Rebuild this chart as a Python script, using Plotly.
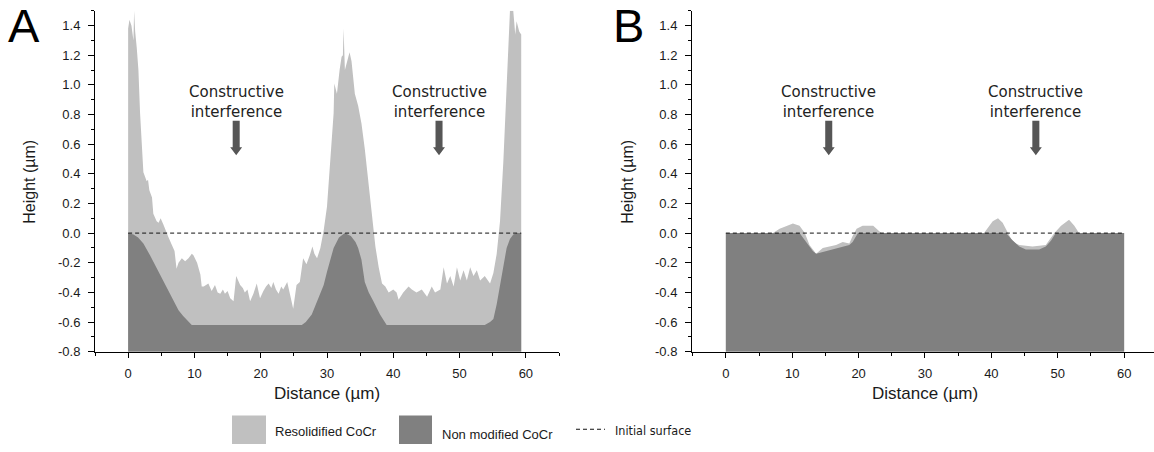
import plotly.graph_objects as go

# ---------------- data ----------------
AXIS_MIN = -0.8
AXIS_MAX = 1.5

# Panel A - resolidified CoCr (light) profile
A_LIGHT_X = [0.0, 0.2, 0.5, 0.8, 0.9, 1.06, 1.3, 1.55, 1.8, 2.06, 2.3, 2.8, 3.0, 3.2, 3.6, 3.8, 4.3, 4.6,
             4.9, 5.3, 5.8, 6.1, 6.6, 7.0, 7.3, 7.6, 8.1, 8.6, 9.1, 9.6, 9.85, 10.4, 10.9, 11.1, 11.4,
             12.1, 12.6, 13.1, 13.5, 13.9, 14.3, 14.6, 15.0, 15.4, 15.9, 16.3, 16.9, 17.3, 17.6, 18.0,
             18.4, 18.9, 19.4, 19.9, 20.4, 20.8, 21.2, 21.6, 21.9, 22.3, 22.7, 23.1, 23.4, 24.0, 24.4,
             24.9, 25.4, 25.9, 26.4, 26.9, 27.4, 27.8, 28.1, 28.5, 29.0, 29.5, 30.0, 30.5, 31.0, 31.1,
             31.5, 31.9, 32.2, 32.4, 32.5, 32.7, 33.0, 33.4, 33.7, 34.2, 34.7, 35.2, 35.7, 36.2, 36.8,
             37.3, 37.8, 38.3, 38.8, 39.3, 40.0, 40.5, 40.8, 41.5, 42.3, 42.8, 43.5, 44.3, 45.1, 45.8,
             46.3, 47.1, 47.6, 48.1, 48.6, 49.1, 49.6, 50.1, 50.6, 51.1, 51.6, 52.1, 52.6, 53.1, 53.8,
             54.6, 55.1, 55.6, 56.1, 56.6, 57.1, 57.4, 57.6, 58.1, 58.4, 58.6, 59.0, 59.3]
A_LIGHT_Y = [1.38, 1.44, 1.40, 1.30, 1.50, 1.36, 1.25, 1.10, 0.81, 0.59, 0.41, 0.35, 0.36, 0.29, 0.24, 0.13, 0.08, 0.07,
             0.10, 0.06, 0.00, -0.03, -0.08, -0.12, -0.24, -0.20, -0.17, -0.19, -0.17, -0.14, -0.15, -0.20, -0.28, -0.36, -0.36,
             -0.34, -0.39, -0.35, -0.40, -0.41, -0.38, -0.41, -0.39, -0.44, -0.46, -0.29, -0.35, -0.37, -0.40, -0.38,
             -0.46, -0.41, -0.34, -0.44, -0.39, -0.36, -0.34, -0.37, -0.33, -0.38, -0.41, -0.36, -0.38, -0.33, -0.41,
             -0.51, -0.35, -0.33, -0.17, -0.21, -0.15, -0.09, -0.14, -0.17, -0.10, 0.02, 0.18, 0.48, 0.81, 1.01,
             0.94, 1.10, 1.19, 1.20, 1.38, 1.10, 1.16, 1.22, 1.16, 0.94, 0.86, 0.74, 0.57, 0.37, 0.13,
             -0.09, -0.23, -0.34, -0.36, -0.40, -0.38, -0.40, -0.45, -0.40, -0.36, -0.38, -0.40, -0.38, -0.43, -0.36,
             -0.40, -0.38, -0.23, -0.34, -0.29, -0.36, -0.23, -0.32, -0.25, -0.32, -0.23, -0.29, -0.25, -0.32, -0.29,
             -0.34, -0.27, -0.14, 0.08, 0.48, 0.99, 1.34, 1.50, 1.50, 1.34, 1.43, 1.36, 1.34]

# Panel A - non modified CoCr (dark) profile
A_DARK_X = [0.0, 0.8, 1.5, 2.3, 3.3, 4.0, 4.8, 5.8, 6.8, 7.6, 8.3, 8.9, 9.6, 26.2, 26.8, 27.7, 28.6, 29.5,
            30.0, 31.0, 31.8, 32.7, 33.6, 34.3, 34.7, 35.2, 35.7, 36.3, 37.0, 38.0, 39.0, 53.8, 54.6, 55.1,
            55.6, 56.1, 56.6, 57.1, 57.6, 58.1, 58.7, 59.3]
A_DARK_Y = [0.0, -0.01, -0.03, -0.07, -0.15, -0.21, -0.28, -0.37, -0.46, -0.52, -0.56, -0.59, -0.62, -0.62, -0.60, -0.55, -0.45, -0.35,
            -0.26, -0.10, -0.03, 0.0, -0.02, -0.06, -0.10, -0.18, -0.33, -0.40, -0.46, -0.55, -0.62, -0.62, -0.60, -0.58,
            -0.48, -0.35, -0.22, -0.10, -0.04, -0.01, 0.0, 0.0]

# Panel B
B_LIGHT_X = [0.0, 7.1, 8.1, 9.1, 10.1, 11.1, 11.9, 12.6, 13.6, 14.6, 15.6, 16.6, 17.6, 18.6, 19.1, 19.7, 20.6,
             22.2, 22.7, 23.4, 38.9, 40.2, 41.0, 41.7, 42.5, 43.0, 43.7, 44.2, 46.2, 48.2, 49.0, 49.5, 50.5,
             51.7, 52.5, 53.2, 60.0]
B_LIGHT_Y = [0.0, 0.0, 0.03, 0.05, 0.065, 0.05, 0.0, -0.08, -0.14, -0.10, -0.09, -0.08, -0.06, -0.07, -0.02, 0.03, 0.05,
             0.05, 0.03, 0.0, 0.0, 0.08, 0.10, 0.07, 0.0, -0.04, -0.07, -0.08, -0.09, -0.08, -0.03, 0.0, 0.05,
             0.09, 0.05, 0.0, 0.0]
B_DARK_X = [0.0, 11.1, 12.1, 13.1, 13.6, 16.1, 18.6, 19.1, 19.9, 42.2, 43.2, 44.2, 45.2, 47.2, 48.2, 49.0, 49.7, 60.0]
B_DARK_Y = [0.0, 0.0, -0.06, -0.12, -0.14, -0.11, -0.08, -0.06, 0.0, 0.0, -0.05, -0.09, -0.11, -0.11, -0.09, -0.05, 0.0, 0.0]

INIT_X_A = [0.0, 59.3]
INIT_X_B = [0.0, 60.0]
INIT_Y = [0.0, 0.0]

ARROW_X_A = [16.3, 46.9]
ARROW_X_B = [15.5, 46.7]

Y_TICKS = [-0.8, -0.6, -0.4, -0.2, 0.0, 0.2, 0.4, 0.6, 0.8, 1.0, 1.2, 1.4]
Y_TICKTEXT = ["-0.8", "-0.6", "-0.4", "-0.2", "0.0", "0.2", "0.4", "0.6", "0.8", "1.0", "1.2", "1.4"]
X_TICKS = [0, 10, 20, 30, 40, 50, 60]
X_TICKTEXT = ["0", "10", "20", "30", "40", "50", "60"]

LIGHT = "#c0c0c0"
DARK = "#808080"
ARROW_C = "#565656"

W, H = 1154, 452

fig = go.Figure()


def add_area(xs, ys, color, xa, ya):
    fig.add_trace(go.Scatter(x=xs, y=[AXIS_MIN] * len(xs), mode="lines", line=dict(width=0),
                             hoverinfo="skip", showlegend=False, xaxis=xa, yaxis=ya))
    fig.add_trace(go.Scatter(x=xs, y=ys, mode="lines", line=dict(width=0, color=color),
                             fill="tonexty", fillcolor=color, showlegend=False, xaxis=xa, yaxis=ya))


add_area(A_LIGHT_X, A_LIGHT_Y, LIGHT, "x", "y")
add_area(A_DARK_X, A_DARK_Y, DARK, "x", "y")
add_area(B_LIGHT_X, B_LIGHT_Y, LIGHT, "x2", "y2")
add_area(B_DARK_X, B_DARK_Y, DARK, "x2", "y2")

for xs, xa, ya in [(INIT_X_A, "x", "y"), (INIT_X_B, "x2", "y2")]:
    fig.add_trace(go.Scatter(x=xs, y=INIT_Y, mode="lines",
                             line=dict(color="#111111", width=1, dash="4px,3px"),
                             showlegend=False, xaxis=xa, yaxis=ya))

# axes
yb0 = 1 - 358 / H
yb1 = 1 - 11 / H
tickfont = dict(family="Liberation Sans, Arial, sans-serif", size=13, color="#1a1a1a")
common_x = dict(showline=True, linecolor="black", linewidth=1, ticks="outside", ticklen=5,
                tickcolor="black", tickvals=X_TICKS, ticktext=X_TICKTEXT, showgrid=False,
                zeroline=False, tickfont=tickfont, fixedrange=True, ticklabelstandoff=5,
                minor=dict(ticks="outside", ticklen=3, dtick=5, tick0=0, tickcolor="black", showgrid=False))
common_y = dict(showline=True, linecolor="black", linewidth=1, ticks="outside", ticklen=6,
                tickcolor="black", tickvals=Y_TICKS, ticktext=Y_TICKTEXT, showgrid=False,
                zeroline=False, tickfont=tickfont, range=[AXIS_MIN, AXIS_MAX], ticklabelstandoff=5,
                minor=dict(ticks="outside", ticklen=3, dtick=0.1, tick0=0, tickcolor="black", showgrid=False))

fig.update_layout(
    width=W, height=H, margin=dict(l=0, r=0, t=0, b=0),
    paper_bgcolor="white", plot_bgcolor="white", showlegend=False,
    xaxis=dict(domain=[95 / W, 559 / W], range=[-5, 65], anchor="y", **common_x),
    yaxis=dict(domain=[yb0, yb1], anchor="x", **common_y),
    xaxis2=dict(domain=[692 / W, 1.0], range=[-5.1, 64.5], anchor="y2", **common_x),
    yaxis2=dict(domain=[yb0, yb1], anchor="x2", **common_y),
)

# arrows and labels
SW, HW = 0.53, 0.9
TOP, NECK, TIP = 0.758, 0.579, 0.526
shapes = []
annotations = []
ann_font = dict(family="DejaVu Sans, Verdana, sans-serif", size=15, color="#222222")
for xs, xr, yr in [(ARROW_X_A, "x", "y"), (ARROW_X_B, "x2", "y2")]:
    for ax in xs:
        path = (f"M {ax - SW},{TOP} L {ax + SW},{TOP} L {ax + SW},{NECK} L {ax + HW},{NECK} "
                f"L {ax},{TIP} L {ax - HW},{NECK} L {ax - SW},{NECK} Z")
        shapes.append(dict(type="path", path=path, xref=xr, yref=yr, fillcolor=ARROW_C,
                           line=dict(width=0)))
        annotations.append(dict(x=ax, y=0.887, xref=xr, yref=yr, text="Constructive<br>interference",
                                showarrow=False, font=ann_font, xanchor="center", yanchor="middle"))

ytitle_font = dict(family="Liberation Sans, Arial, sans-serif", size=16, color="#1a1a1a")
xtitle_font = dict(family="Liberation Sans, Arial, sans-serif", size=17, color="#1a1a1a")
for xc in [30 / W, 628 / W]:
    annotations.append(dict(x=xc, y=1 - 185 / H, xref="paper", yref="paper", text="Height (µm)",
                            textangle=-90, showarrow=False, font=ytitle_font,
                            xanchor="center", yanchor="middle"))
for xc in [327 / W, 925 / W]:
    annotations.append(dict(x=xc, y=1 - 401 / H, xref="paper", yref="paper", text="Distance (µm)",
                            showarrow=False, font=xtitle_font, xanchor="center", yanchor="middle"))

letter_font = dict(family="Liberation Sans, Arial, sans-serif", size=47, color="black")
annotations.append(dict(x=24 / W, y=1 - 26 / H, xref="paper", yref="paper", text="A",
                        showarrow=False, font=letter_font, xanchor="center", yanchor="middle"))
annotations.append(dict(x=628 / W, y=1 - 26 / H, xref="paper", yref="paper", text="B",
                        showarrow=False, font=letter_font, xanchor="center", yanchor="middle"))

# legend (drawn manually)
shapes.append(dict(type="rect", xref="paper", yref="paper", x0=232 / W, x1=266 / W,
                   y0=0, y1=1 - 423 / H, fillcolor=LIGHT, line=dict(width=0)))
shapes.append(dict(type="rect", xref="paper", yref="paper", x0=399 / W, x1=432 / W,
                   y0=0, y1=1 - 423 / H, fillcolor=DARK, line=dict(width=0)))
shapes.append(dict(type="line", xref="paper", yref="paper", x0=576 / W, x1=605 / W,
                   y0=1 - 437 / H, y1=1 - 437 / H, line=dict(color="#111111", width=1, dash="4px,3px")))
leg_font = dict(family="Liberation Sans, Arial, sans-serif", size=13, color="#1a1a1a")
for txt, x0, yc, fnt in [("Resolidified CoCr", 273, 439, leg_font),
                         ("Non modified CoCr", 440, 442, leg_font),
                         ("Initial surface", 613, 438, dict(family="DejaVu Sans Condensed, DejaVu Sans",
                                                             size=12.5, color="#1a1a1a"))]:
    annotations.append(dict(x=x0 / W, y=1 - yc / H, xref="paper", yref="paper", text=txt,
                            showarrow=False, xanchor="left", yanchor="middle", font=fnt))

fig.update_layout(shapes=shapes, annotations=annotations)
fig.write_html("out.html")
